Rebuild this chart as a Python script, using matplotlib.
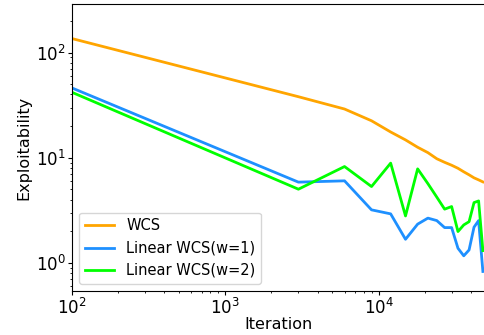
import matplotlib
matplotlib.use('Agg')
import matplotlib.pyplot as plt

# iterations
iters = [100, 3000, 6000, 9000, 12000, 15000, 18000, 21000, 24000, 27000,
         30000, 33000, 36000, 39000, 42000, 45000, 48000]

# exploitability
wcs = [136, 38.1, 29.1, 22.5, 17.6, 14.8, 12.6, 11.2, 9.8, 9.06,
       8.5, 7.95, 7.36, 6.89, 6.45, 6.17, 5.9]
lin_w1 = [46.1, 5.87, 6.04, 3.2, 2.93, 1.68, 2.34, 2.67, 2.53, 2.17,
          2.17, 1.38, 1.17, 1.33, 2.19, 2.53, 0.83]
lin_w2 = [41.9, 5.03, 8.26, 5.33, 8.9, 2.8, 7.85, 5.68, 4.23, 3.25,
          3.44, 1.99, 2.3, 2.47, 3.75, 3.89, 1.31]

fig = plt.figure(figsize=(4.84, 3.35), dpi=100)
ax = fig.add_axes([0.149, 0.131, 0.851, 0.857])

ax.plot(iters, wcs, color='orange', lw=2, label='WCS')
ax.plot(iters, lin_w1, color='dodgerblue', lw=2, label='Linear WCS(w=1)')
ax.plot(iters, lin_w2, color='lime', lw=2, label='Linear WCS(w=2)')

ax.set_xscale('log')
ax.set_yscale('log')
ax.set_xlim(100, 48800)
ax.set_ylim(0.54, 290)
ax.spines['right'].set_visible(False)  # cut off in the original

ax.tick_params(which='major', labelsize=12, length=3, pad=1.8)
ax.tick_params(which='minor', length=1.7)
ax.set_xlabel('Iteration', fontsize=11.5, labelpad=-0.5)
ax.set_ylabel('Exploitability', fontsize=11.5, labelpad=3)
ax.legend(loc='lower left', fontsize=10.5)

fig.savefig('out.png', dpi=100)
